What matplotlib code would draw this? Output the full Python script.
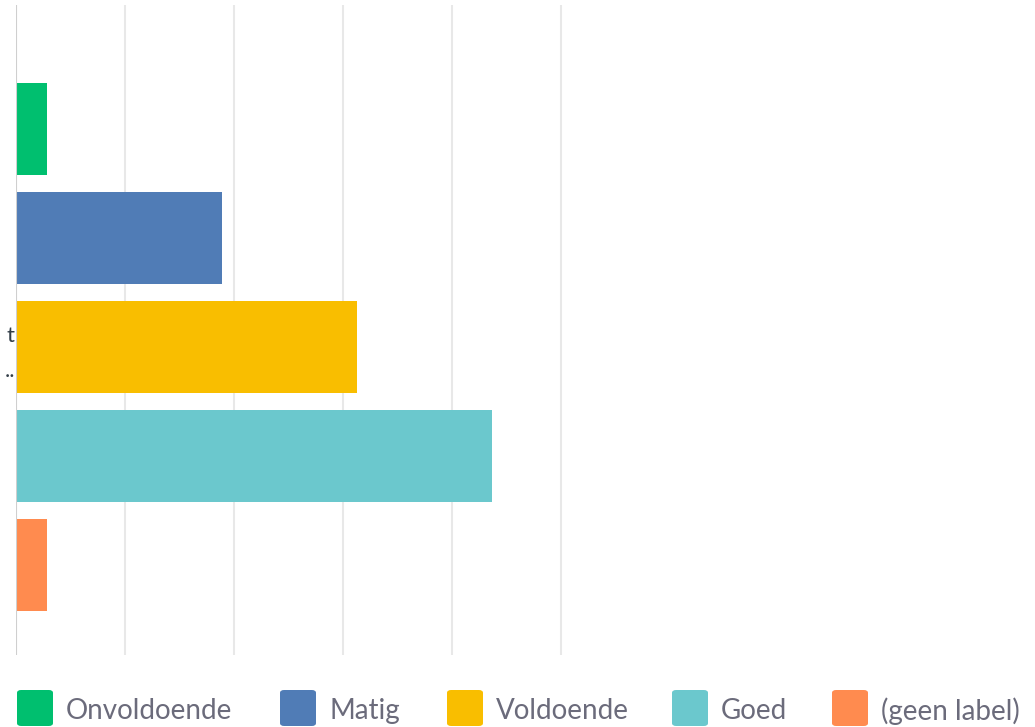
import matplotlib
matplotlib.use('Agg')
import matplotlib.pyplot as plt
from matplotlib.patches import FancyBboxPatch

labels = ['Onvoldoende', 'Matig', 'Voldoende', 'Goed', '(geen label)']
values = [2.8, 18.9, 31.3, 43.7, 2.8]
colors = ['#00bf6f', '#507cb6', '#f9be00', '#6bc8cd', '#ff8b4f']
grid_ticks = [10, 20, 30, 40, 50]

plt.rcParams['font.family'] = ['Lato', 'DejaVu Sans']

fig = plt.figure(figsize=(10.35, 7.27), dpi=100)
ax = fig.add_axes([16 / 1035, 1 - 655 / 727, 1 - 16 / 1035, 650 / 727])

pos = list(range(len(labels)))
ax.barh(pos, values, height=0.845, color=colors, zorder=3)
ax.set_ylim(4.83, -1.14)
ax.set_xlim(0, 93.5)

for t in grid_ticks:
    ax.axvline(t, color='#e8e8e8', lw=1.5, zorder=1)
ax.axvline(0, color='#cfcfcf', lw=1.5, zorder=4)

ax.set_xticks([])
ax.set_yticks([])
for s in ax.spines.values():
    s.set_visible(False)

# clipped category label fragments on the left
ax.text(-0.1, 1.9, 't', ha='right', va='center', fontsize=16, color='#333e48')
ax.text(-0.1, 2.22, '..', ha='right', va='center', fontsize=16, color='#333e48')

# legend
item_x = [17, 280, 447, 672, 832]
for x, lab, c in zip(item_x, labels, colors):
    box = FancyBboxPatch((x / 1035, 1 - 726 / 727), 36 / 1035, 36 / 727,
                         boxstyle='round,pad=0,rounding_size=0.004',
                         transform=fig.transFigure, facecolor=c, edgecolor='none')
    fig.patches.append(box)
    fig.text((x + 49) / 1035, 1 - 711 / 727, lab, ha='left', va='center',
             fontsize=20, color='#6b6b7b')

fig.savefig('out.png', dpi=100)
